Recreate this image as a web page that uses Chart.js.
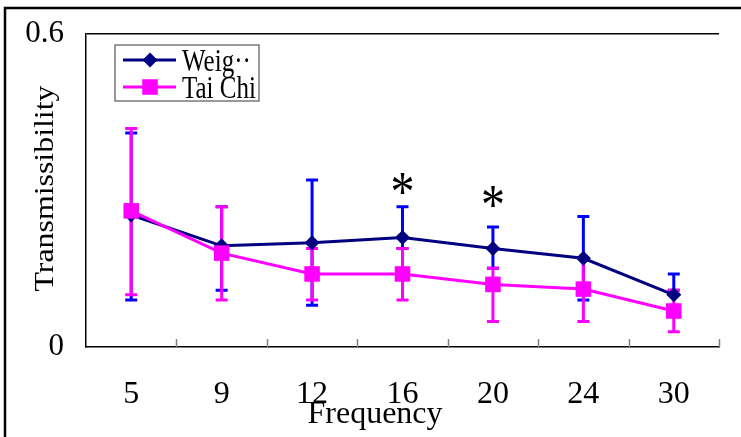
<!DOCTYPE html>
<html>
<head>
<meta charset="utf-8">
<script src="https://cdn.jsdelivr.net/npm/chart.js@4.4.0/dist/chart.umd.min.js"></script>
<style>
  html, body { margin: 0; padding: 0; background: #fff; }
  #wrap { width: 741px; height: 437px; }
</style>
</head>
<body>
<div id="wrap"><canvas id="transmissibility-chart" width="741" height="437"></canvas></div>
<script>
// Frequency categories on the x axis
const frequencies = ['5', '9', '12', '16', '20', '24', '30'];
// Only two labels on the y axis
const yTickValues = [0, 0.6];

// Weight group: mean and error bar ends
const weightMean = [0.253, 0.194, 0.200, 0.210, 0.189, 0.170, 0.100];
const weightHigh = [0.410, 0.269, 0.320, 0.269, 0.230, 0.250, 0.140];
const weightLow  = [0.090, 0.109, 0.080, 0.189, 0.151, 0.090, 0.109];

// Tai Chi group: mean and error bar ends
const taiChiMean = [0.261, 0.180, 0.140, 0.140, 0.120, 0.111, 0.069];
const taiChiHigh = [0.419, 0.269, 0.189, 0.189, 0.151, 0.170, 0.109];
const taiChiLow  = [0.100, 0.090, 0.090, 0.090, 0.049, 0.049, 0.029];

// Significance marks (*)
const starFrequencies = ['16', '20'];
const starValues = [0.314, 0.288];

const SERIF = '"Liberation Serif", "Times New Roman", serif';

function createTransmissibilityChart() {
    const canvas = document.getElementById('transmissibility-chart');
    if (!canvas) {
        console.error('Chart canvas not found!');
        return;
    }

    const errorSets = [
        { low: weightLow, high: weightHigh, color: '#0000ff' },
        { low: taiChiLow, high: taiChiHigh, color: '#ff00ff' }
    ];

    // outer frame of the picture
    const framePlugin = {
        id: 'frame',
        beforeDraw(chart) {
            const ctx = chart.ctx;
            ctx.save();
            ctx.fillStyle = '#fff';
            ctx.fillRect(0, 0, chart.width, chart.height);
            ctx.strokeStyle = '#000';
            ctx.lineWidth = 2.5;
            ctx.strokeRect(5, 8, chart.width + 20, chart.height + 20);
            ctx.restore();
        }
    };

    // error bars + small inner tick marks between categories
    const errorBarPlugin = {
        id: 'errorBars',
        beforeDatasetsDraw(chart) {
            const { ctx, chartArea } = chart;
            const x = chart.scales.x, y = chart.scales.y;
            const step = x.getPixelForValue(1) - x.getPixelForValue(0);
            ctx.save();
            ctx.strokeStyle = '#808080';
            ctx.lineWidth = 1.5;
            for (let i = 0; i < frequencies.length; i++) {
                const bx = Math.round(x.getPixelForValue(i) + step / 2) + 0.5;
                ctx.beginPath();
                ctx.moveTo(bx, chartArea.bottom);
                ctx.lineTo(bx, chartArea.bottom - 8);
                ctx.stroke();
            }
            errorSets.forEach(set => {
                ctx.strokeStyle = set.color;
                ctx.lineWidth = 3;
                for (let i = 0; i < frequencies.length; i++) {
                    const px = x.getPixelForValue(i);
                    const yl = y.getPixelForValue(set.low[i]);
                    const yh = y.getPixelForValue(set.high[i]);
                    ctx.beginPath();
                    ctx.moveTo(px, yl);
                    ctx.lineTo(px, yh);
                    ctx.moveTo(px - 6, yl);
                    ctx.lineTo(px + 6, yl);
                    ctx.moveTo(px - 6, yh);
                    ctx.lineTo(px + 6, yh);
                    ctx.stroke();
                }
            });
            ctx.restore();
        }
    };

    // legend box, asterisks and axis titles
    const textPlugin = {
        id: 'texts',
        afterDraw(chart) {
            const { ctx, chartArea } = chart;
            const x = chart.scales.x, y = chart.scales.y;
            ctx.save();

            // legend inside the plot
            const bx = chartArea.left + 29, by = chartArea.top + 11;
            ctx.fillStyle = '#fff';
            ctx.fillRect(bx, by, 144, 56);
            ctx.strokeStyle = '#555';
            ctx.lineWidth = 1.2;
            ctx.strokeRect(bx, by, 144, 56);
            chart.data.datasets.forEach((ds, i) => {
                const ry = by + 15 + i * 27;
                ctx.strokeStyle = ds.borderColor;
                ctx.lineWidth = ds.borderWidth;
                ctx.beginPath();
                ctx.moveTo(bx + 8, ry);
                ctx.lineTo(bx + 61, ry);
                ctx.stroke();
                ctx.fillStyle = ds.backgroundColor;
                Chart.helpers.drawPoint(ctx, { pointStyle: ds.pointStyle, radius: ds.pointRadius, borderWidth: 0 }, bx + 35, ry);
                ctx.save();
                ctx.fillStyle = '#000';
                ctx.font = '25px ' + SERIF;
                ctx.textBaseline = 'middle';
                ctx.translate(bx + 67, ry + 3);
                ctx.scale(1, 1.25);
                ctx.fillText(ds.label, 0, 0);
                ctx.restore();
            });

            // asterisks
            ctx.fillStyle = '#000';
            ctx.font = '48px ' + SERIF;
            ctx.textAlign = 'center';
            ctx.textBaseline = 'alphabetic';
            starFrequencies.forEach((f, i) => {
                const px = x.getPixelForValue(frequencies.indexOf(f));
                const py = y.getPixelForValue(starValues[i]);
                const m = ctx.measureText('*');
                const mid = (m.actualBoundingBoxAscent - m.actualBoundingBoxDescent) / 2;
                ctx.save();
                ctx.translate(px, py);
                ctx.scale(1, 1.2);
                ctx.fillText('*', 0, mid);
                ctx.restore();
            });

            // x title
            ctx.font = '32px ' + SERIF;
            ctx.textAlign = 'center';
            ctx.textBaseline = 'alphabetic';
            ctx.fillText('Frequency', chartArea.left + 289, chartArea.bottom + 76);

            // y title (rotated)
            ctx.save();
            ctx.translate(chartArea.left - 33, (chartArea.top + chartArea.bottom) / 2 - 2);
            ctx.rotate(-Math.PI / 2);
            ctx.scale(1.18, 1);
            ctx.font = '27px ' + SERIF;
            ctx.fillText('Transmissibility', 0, 0);
            ctx.restore();

            ctx.restore();
        }
    };

    new Chart(canvas.getContext('2d'), {
        type: 'line',
        data: {
            labels: frequencies,
            datasets: [
                {
                    label: 'Weig\u00b7\u00b7',
                    data: weightMean,
                    borderColor: '#000080',
                    backgroundColor: '#000080',
                    borderWidth: 3,
                    pointStyle: 'rectRot',
                    pointRadius: 7.5,
                    pointBorderWidth: 0,
                    order: 1
                },
                {
                    label: 'Tai Chi',
                    data: taiChiMean,
                    borderColor: '#ff00ff',
                    backgroundColor: '#ff00ff',
                    borderWidth: 3,
                    pointStyle: 'rect',
                    pointRadius: 11,
                    pointBorderWidth: 0,
                    order: 0
                }
            ]
        },
        options: {
            responsive: false,
            animation: false,
            layout: { padding: { left: 0, top: 34, right: 22, bottom: 0 } },
            plugins: {
                legend: { display: false },
                tooltip: { enabled: false }
            },
            scales: {
                x: {
                    offset: true,
                    grid: { display: false },
                    border: { display: true, color: '#000', width: 1.5 },
                    ticks: {
                        color: '#000',
                        font: { family: SERIF, size: 32 },
                        padding: 20,
                        maxRotation: 0,
                        autoSkip: false
                    },
                    afterFit: scale => { scale.height = 90; }
                },
                y: {
                    min: 0,
                    max: 0.6,
                    afterBuildTicks: scale => {
                        scale.ticks = yTickValues.map(v => ({ value: v }));
                    },
                    grid: {
                        drawTicks: false,
                        lineWidth: 1.5,
                        color: c => (c.tick && c.tick.value === 0.6) ? '#000' : 'rgba(0,0,0,0)'
                    },
                    border: { display: true, color: '#000', width: 1.5 },
                    ticks: {
                        color: '#000',
                        font: { family: SERIF, size: 31 },
                        padding: 22
                    },
                    afterFit: scale => {
                        scale.width = 86;
                        scale.paddingTop = 0;
                        scale.paddingBottom = 0;
                    }
                }
            }
        },
        plugins: [framePlugin, errorBarPlugin, textPlugin]
    });
}

document.addEventListener('DOMContentLoaded', function() {
    createTransmissibilityChart();
});
</script>
</body>
</html>
